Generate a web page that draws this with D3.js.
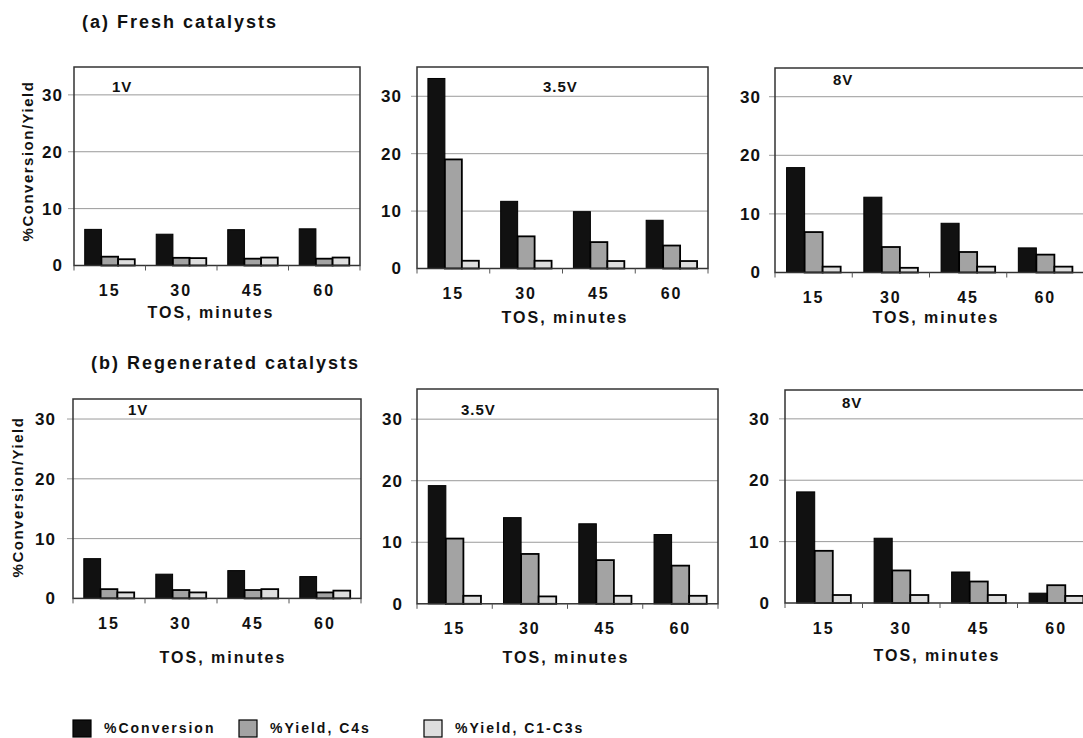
<!DOCTYPE html>
<html>
<head>
<meta charset="utf-8">
<script src="https://cdn.jsdelivr.net/npm/d3@7"></script>
<style>
  body { margin: 0; background: #fff; }
  text { font-family: "Liberation Sans", Arial, sans-serif; font-weight: bold; fill: #111; }
</style>
</head>
<body>
<div id="chart"></div>
<script>
(function(){

    // categories
    var tos = ["15", "30", "45", "60"];
    var seriesNames = ["%Conversion", "%Yield, C4s", "%Yield, C1-C3s"];
    var panelLabels = ["1V", "3.5V", "8V"];
    var yTicks = [0, 10, 20, 30];

    // (a) fresh catalysts: one row per panel (1V, 3.5V, 8V)
    var freshConversion = [
        [6.35, 5.5, 6.3, 6.45],
        [33.1, 11.7, 9.9, 8.4],
        [17.9, 12.85, 8.4, 4.2]
    ];
    var freshYieldC4 = [
        [1.55, 1.35, 1.2, 1.2],
        [19.0, 5.6, 4.6, 4.0],
        [6.9, 4.35, 3.5, 3.05]
    ];
    var freshYieldC1C3 = [
        [1.1, 1.3, 1.4, 1.4],
        [1.35, 1.35, 1.3, 1.3],
        [1.0, 0.8, 1.0, 1.0]
    ];

    // (b) regenerated catalysts
    var regenConversion = [
        [6.65, 4.05, 4.65, 3.65],
        [19.2, 14.0, 13.0, 11.25],
        [18.1, 10.55, 5.05, 1.6]
    ];
    var regenYieldC4 = [
        [1.55, 1.4, 1.4, 1.0],
        [10.6, 8.1, 7.1, 6.2],
        [8.5, 5.3, 3.5, 2.9]
    ];
    var regenYieldC1C3 = [
        [1.0, 1.0, 1.55, 1.3],
        [1.3, 1.2, 1.3, 1.3],
        [1.3, 1.3, 1.3, 1.15]
    ];

    var colors = ["#111111", "#a3a3a3", "#dedede"];

    var width = 1083, height = 738;
    var svg = d3.select("#chart").append("svg")
        .attr("width", width)
        .attr("height", height);

    // panel frames (pixels)
    var panels = [
        {left: 74,  right: 360,  top: 67,  zero: 265.5, yTop: 34.9, labelX: 112, labelY: 87,  titleX: 211, titleY: 312, tickPad: 11},
        {left: 417, right: 708,  top: 67,  zero: 268.5, yTop: 35.1, labelX: 543, labelY: 87,  titleX: 565, titleY: 317, tickPad: 15},
        {left: 775, right: 1084, top: 68,  zero: 272.5, yTop: 34.9, labelX: 833, labelY: 80,  titleX: 936, titleY: 317, tickPad: 14},
        {left: 73,  right: 361,  top: 399, zero: 598.4, yTop: 33.35, labelX: 128, labelY: 410, titleX: 223, titleY: 657, tickPad: 17},
        {left: 417, right: 718,  top: 389, zero: 603.8, yTop: 34.9, labelX: 461, labelY: 410, titleX: 566, titleY: 657, tickPad: 14},
        {left: 785, right: 1095, top: 390, zero: 603,   yTop: 34.7, labelX: 842, labelY: 403, titleX: 937, titleY: 655, tickPad: 15}
    ];

    function drawPanel(p, label, series){
        var g = svg.append("g");
        var x = d3.scaleBand().domain(tos).range([p.left, p.right]);
        var inner = d3.scaleBand().domain(d3.range(series.length))
            .range([x.bandwidth() * 0.15, x.bandwidth() * 0.85]);
        var y = d3.scaleLinear().domain([0, p.yTop]).range([p.zero, p.top]);

        // gridlines with short outer ticks
        g.selectAll(".grid")
            .data(yTicks.filter(function(d){ return d > 0; }))
            .enter().append("line")
            .attr("x1", p.left - 6).attr("x2", p.right)
            .attr("y1", function(d){ return y(d); })
            .attr("y2", function(d){ return y(d); })
            .attr("stroke", "#9a9a9a").attr("stroke-width", 1);

        var yAxis = g.append("g")
            .attr("transform", "translate(" + p.left + ",0)")
            .call(d3.axisLeft(y).tickValues(yTicks).tickSize(0).tickPadding(p.tickPad));
        yAxis.select(".domain").remove();
        yAxis.selectAll("text")
            .attr("font-size", 17).attr("font-family", null).attr("fill", "#111")
            .style("letter-spacing", "1px");

        // bars
        var rows = tos.map(function(t, i){
            return series.map(function(s, k){ return {tos: t, k: k, v: s[i]}; });
        });
        g.selectAll(".grp")
            .data(rows)
            .enter().append("g")
            .attr("transform", function(d, i){ return "translate(" + x(tos[i]) + ",0)"; })
            .selectAll("rect")
            .data(function(d){ return d; })
            .enter().append("rect")
            .attr("x", function(d){ return inner(d.k); })
            .attr("width", inner.bandwidth())
            .attr("y", function(d){ return y(d.v); })
            .attr("height", function(d){ return y(0) - y(d.v); })
            .attr("fill", function(d){ return colors[d.k]; })
            .attr("stroke", "#000")
            .attr("stroke-width", function(d){ return d.k === 0 ? 1 : 1.8; });

        // frame
        g.append("rect")
            .attr("x", p.left).attr("y", p.top)
            .attr("width", p.right - p.left).attr("height", p.zero - p.top)
            .attr("fill", "none").attr("stroke", "#333").attr("stroke-width", 1.5);

        // category boundary ticks
        g.selectAll(".xt")
            .data(tos.map(function(t){ return x(t); }).concat([p.right]))
            .enter().append("line")
            .attr("x1", function(d){ return d; }).attr("x2", function(d){ return d; })
            .attr("y1", p.zero).attr("y2", p.zero + 5)
            .attr("stroke", "#555").attr("stroke-width", 1);

        g.selectAll(".xl")
            .data(tos)
            .enter().append("text")
            .attr("x", function(d){ return x(d) + x.bandwidth() / 2; })
            .attr("y", p.zero + 25)
            .attr("dy", "0.35em")
            .attr("text-anchor", "middle")
            .attr("font-size", 16)
            .style("letter-spacing", "2px")
            .text(function(d){ return d; });

        g.append("text")
            .attr("x", p.titleX).attr("y", p.titleY)
            .attr("dy", "0.35em")
            .attr("text-anchor", "middle")
            .attr("font-size", 16)
            .style("letter-spacing", "2px")
            .text("TOS, minutes");

        g.append("text")
            .attr("x", p.labelX).attr("y", p.labelY)
            .attr("dy", "0.35em")
            .attr("font-size", 15)
            .style("letter-spacing", "1px")
            .text(label);
    }

    for (var i = 0; i < 3; i++) {
        drawPanel(panels[i], panelLabels[i], [freshConversion[i], freshYieldC4[i], freshYieldC1C3[i]]);
        drawPanel(panels[i + 3], panelLabels[i], [regenConversion[i], regenYieldC4[i], regenYieldC1C3[i]]);
    }

    // section titles
    svg.append("text").attr("x", 82).attr("y", 22).attr("dy", "0.35em")
        .attr("font-size", 18).style("letter-spacing", "2px")
        .text("(a) Fresh catalysts");
    svg.append("text").attr("x", 91).attr("y", 363).attr("dy", "0.35em")
        .attr("font-size", 18).style("letter-spacing", "2px")
        .text("(b) Regenerated catalysts");

    // y axis titles
    [[28, 161], [18, 497]].forEach(function(c){
        svg.append("text")
            .attr("transform", "translate(" + c[0] + "," + c[1] + ") rotate(-90)")
            .attr("dy", "0.35em")
            .attr("text-anchor", "middle")
            .attr("font-size", 15)
            .style("letter-spacing", "1.5px")
            .text("%Conversion/Yield");
    });

    // legend
    var legendX = [73, 239, 424];
    var lg = svg.append("g").selectAll("g")
        .data(seriesNames)
        .enter().append("g")
        .attr("transform", function(d, i){ return "translate(" + legendX[i] + ",720)"; });
    lg.append("rect")
        .attr("width", 18).attr("height", 17)
        .attr("fill", function(d, i){ return colors[i]; })
        .attr("stroke", "#000").attr("stroke-width", 1.2);
    lg.append("text")
        .attr("x", 31).attr("y", 8.5).attr("dy", "0.35em")
        .attr("font-size", 14)
        .style("letter-spacing", "2px")
        .text(function(d){ return d; });

})();
</script>
</body>
</html>
